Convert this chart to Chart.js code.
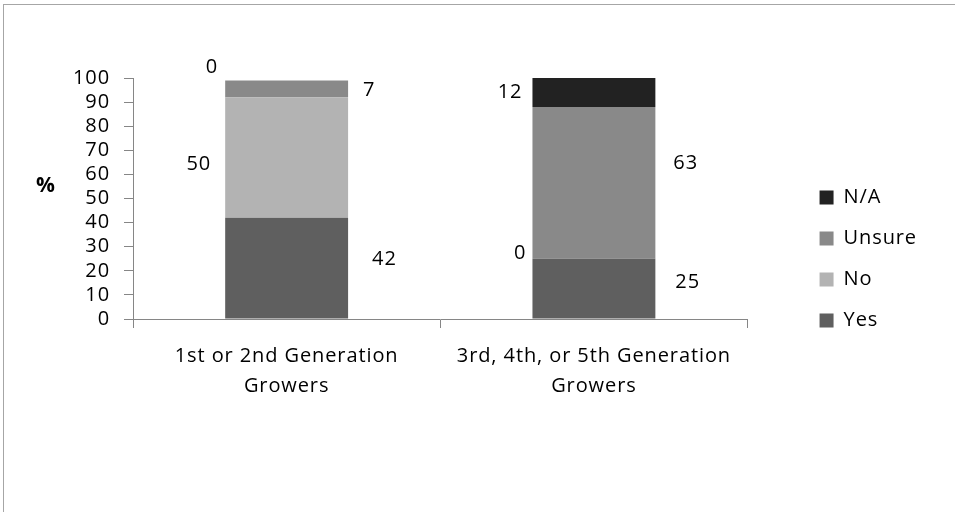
<!DOCTYPE html>
<html>
<head>
<meta charset="utf-8">
<script src="https://cdn.jsdelivr.net/npm/chart.js@4"></script>
<style>
    html, body { margin: 0; padding: 0; background: #fff; }
    #wrap {
        position: absolute; left: 3px; top: 4px; width: 952px; height: 508px;
        border-left: 1px solid #a6a6a6; border-top: 1px solid #a6a6a6;
    }
    #box { position: absolute; left: 0; top: 0; width: 955px; height: 512px; }
</style>
</head>
<body>
<div id="wrap"></div>
<div id="box"><canvas id="myChart"></canvas></div>
<script>
// ----------------------------
// data
// ----------------------------
const categories = [['1st or 2nd Generation', 'Growers'], ['3rd, 4th, or 5th Generation', 'Growers']];
const yesValues = [42, 25];
const noValues = [50, 0];
const unsureValues = [7, 63];
const naValues = [0, 12];
const yTicks = [0, 10, 20, 30, 40, 50, 60, 70, 80, 90, 100];

const FONT = 'Open Sans';
const FS = 20;
const SPACING = '0.9px'; // reference text is wide, so spread the letters a bit

// label placement per series: [gap from bar edge (+ right / - left), dy from segment centre]
const labelPlace = {
    Yes: [[24, -9], [20, -6]],
    No: [[-14, 7], [-6, -5]],
    Unsure: [[15, 1], [18, -20]],
    'N/A': [[-7, -13], [-10, 0]]
};

const wideText = {
    id: 'wideText',
    beforeLayout(chart) { chart.ctx.letterSpacing = SPACING; },
    beforeDraw(chart) { chart.ctx.letterSpacing = SPACING; }
};

const valueLabels = {
    id: 'valueLabels',
    afterDatasetsDraw(chart) {
        const c = chart.ctx;
        c.save();
        c.font = `${FS}px "${FONT}"`;
        c.fillStyle = '#000';
        c.textBaseline = 'middle';
        chart.data.datasets.forEach((ds, i) => {
            const meta = chart.getDatasetMeta(i);
            meta.data.forEach((bar, j) => {
                const p = labelPlace[ds.label][j];
                const half = bar.width / 2;
                const cy = (bar.y + bar.base) / 2 + p[1];
                if (p[0] > 0) {
                    c.textAlign = 'left';
                    c.fillText(String(ds.data[j]), bar.x + half + p[0], cy);
                } else {
                    c.textAlign = 'right';
                    c.fillText(String(ds.data[j]), bar.x - half + p[0], cy);
                }
            });
        });
        c.restore();
    }
};

const percentTitle = {
    id: 'percentTitle',
    afterDraw(chart) {
        const c = chart.ctx;
        const a = chart.chartArea;
        c.save();
        c.font = `bold ${FS + 1}px "${FONT}"`;
        c.fillStyle = '#000';
        c.textAlign = 'center';
        c.textBaseline = 'middle';
        c.fillText('%', 46, (a.top + a.bottom) / 2 - 12);
        c.restore();
    }
};

const ctx = document.getElementById('myChart').getContext('2d');
const chart = new Chart(ctx, {
    type: 'bar',
    data: {
        labels: categories,
        datasets: [
            { label: 'Yes', data: yesValues, backgroundColor: '#5f5f5f' },
            { label: 'No', data: noValues, backgroundColor: '#b3b3b3' },
            { label: 'Unsure', data: unsureValues, backgroundColor: '#898989' },
            { label: 'N/A', data: naValues, backgroundColor: '#222222' }
        ]
    },
    options: {
        responsive: true,
        maintainAspectRatio: false,
        animation: false,
        datasets: {
            bar: { categoryPercentage: 1, barPercentage: 0.4 }
        },
        layout: { padding: { left: 0, top: 78, right: 28, bottom: 72 } },
        plugins: {
            legend: {
                position: 'right',
                reverse: true,
                labels: {
                    color: '#000',
                    font: { family: FONT, size: FS },
                    boxWidth: 14,
                    boxHeight: 14,
                    padding: 21
                }
            },
            tooltip: { enabled: false }
        },
        scales: {
            x: {
                stacked: true,
                afterFit: (s) => { s.height = 121; },
                ticks: {
                    color: '#000',
                    font: { family: FONT, size: FS, lineHeight: 1.5 },
                    padding: 13,
                    maxRotation: 0
                },
                grid: {
                    display: true,
                    drawOnChartArea: false,
                    offset: true,
                    color: '#868686',
                    tickLength: 9
                },
                border: { color: '#868686' }
            },
            y: {
                stacked: true,
                min: 0,
                max: 100,
                afterFit: (s) => { s.width = 133; },
                afterBuildTicks: (s) => { s.ticks = yTicks.map(v => ({ value: v })); },
                ticks: {
                    color: '#000',
                    font: { family: FONT, size: FS },
                    padding: 14,
                    autoSkip: false
                },
                grid: {
                    display: true,
                    drawOnChartArea: false,
                    color: '#868686',
                    tickLength: 9
                },
                border: { color: '#868686' }
            },
            y2: {
                position: 'right',
                display: true,
                afterFit: (s) => { s.width = 51; },
                ticks: { display: false },
                grid: { display: false },
                border: { display: false }
            }
        }
    },
    plugins: [wideText, valueLabels, percentTitle]
});
</script>
</body>
</html>
